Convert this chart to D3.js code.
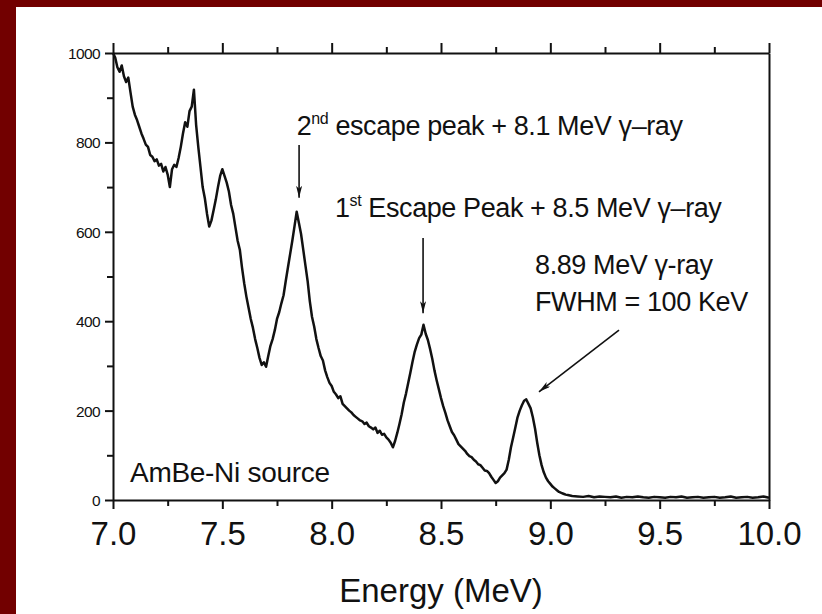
<!DOCTYPE html>
<html>
<head>
<meta charset="utf-8">
<script src="https://cdn.jsdelivr.net/npm/d3@7/dist/d3.min.js"></script>
<style>
  html, body { margin: 0; padding: 0; background: #720000; }
  svg { display: block; }
  text { font-family: "Liberation Sans", Arial, sans-serif; fill: #111; }
</style>
</head>
<body>
<svg id="chart" width="822" height="614"></svg>
<script>
// ---- data ----
const energy = [
  7.00, 7.01, 7.02, 7.03, 7.04, 7.05, 7.06, 7.07, 7.08, 7.09,
  7.10, 7.11, 7.12, 7.13, 7.14, 7.15, 7.16, 7.17, 7.18, 7.19,
  7.20, 7.21, 7.22, 7.23, 7.24, 7.25, 7.26, 7.27, 7.28, 7.29,
  7.30, 7.31, 7.32, 7.33, 7.34, 7.35, 7.36, 7.37, 7.38, 7.39,
  7.40, 7.41, 7.42, 7.43, 7.44, 7.45, 7.46, 7.47, 7.48, 7.49,
  7.50, 7.51, 7.52, 7.53, 7.54, 7.55, 7.56, 7.57, 7.58, 7.59,
  7.60, 7.61, 7.62, 7.63, 7.64, 7.65, 7.66, 7.67, 7.68, 7.69,
  7.70, 7.71, 7.72, 7.73, 7.74, 7.75, 7.76, 7.77, 7.78, 7.79,
  7.80, 7.81, 7.82, 7.83, 7.84, 7.85, 7.86, 7.87, 7.88, 7.89,
  7.90, 7.91, 7.92, 7.93, 7.94, 7.95, 7.96, 7.97, 7.98, 7.99,
  8.00, 8.01, 8.02, 8.03, 8.04, 8.05, 8.06, 8.07, 8.08, 8.09,
  8.10, 8.11, 8.12, 8.13, 8.14, 8.15, 8.16, 8.17, 8.18, 8.19,
  8.20, 8.21, 8.22, 8.23, 8.24, 8.25, 8.26, 8.27, 8.28, 8.29,
  8.30, 8.31, 8.32, 8.33, 8.34, 8.35, 8.36, 8.37, 8.38, 8.39,
  8.40, 8.41, 8.42, 8.43, 8.44, 8.45, 8.46, 8.47, 8.48, 8.49,
  8.50, 8.51, 8.52, 8.53, 8.54, 8.55, 8.56, 8.57, 8.58, 8.59,
  8.60, 8.61, 8.62, 8.63, 8.64, 8.65, 8.66, 8.67, 8.68, 8.69,
  8.70, 8.71, 8.72, 8.73, 8.74, 8.75, 8.76, 8.77, 8.78, 8.79,
  8.80, 8.81, 8.82, 8.83, 8.84, 8.85, 8.86, 8.87, 8.88, 8.89,
  8.90, 8.91, 8.92, 8.93, 8.94, 8.95, 8.96, 8.97, 8.98, 8.99,
  9.00, 9.01, 9.02, 9.03, 9.04, 9.05, 9.06, 9.07, 9.08, 9.09,
  9.10,
  9.125, 9.15, 9.175, 9.20, 9.225, 9.25, 9.275, 9.30, 9.325, 9.35,
  9.375, 9.40, 9.425, 9.45, 9.475, 9.50, 9.525, 9.55, 9.575, 9.60,
  9.625, 9.65, 9.675, 9.70, 9.725, 9.75, 9.775, 9.80, 9.825, 9.85,
  9.875, 9.90, 9.925, 9.95, 9.975, 10.00
];
const counts = [
  1000, 990, 968, 958, 972, 948, 935, 945, 912, 880,
  862, 850, 835, 820, 808, 795, 790, 772, 768, 758,
  762, 748, 752, 735, 745, 728, 700, 740, 750, 745,
  765, 790, 820, 845, 835, 870, 880, 918, 840, 790,
  745, 700, 675, 640, 612, 625, 648, 672, 700, 725,
  740, 725, 710, 690, 660, 640, 610, 580, 560, 520,
  485, 455, 430, 405, 385, 360, 340, 318, 302, 308,
  298, 322, 345, 360, 380, 405, 420, 440, 458, 490,
  520, 550, 580, 612, 645, 620, 595, 560, 525, 490,
  445, 410, 388, 360, 340, 322, 312, 290, 275, 262,
  255, 242, 236, 228, 232, 215, 210, 205, 200, 196,
  190, 186, 182, 178, 176, 170, 173, 165, 162, 158,
  162, 150, 155, 146, 148, 140, 135, 128, 118, 132,
  150, 170, 192, 218, 238, 262, 285, 310, 332, 348,
  362, 370, 392, 372, 358, 338, 316, 290, 268, 248,
  228, 210, 195, 178, 165, 152, 145, 135, 125, 120,
  115, 110, 103, 98, 96, 90, 86, 80, 78, 72,
  66, 65, 60, 52, 45, 38, 42, 50, 55, 60,
  68, 90, 118, 140, 162, 185, 200, 212, 222, 225,
  215, 205, 185, 160, 128, 100, 78, 62, 50, 42,
  36, 30, 26, 22, 18, 16, 14, 12, 11, 10,
  9,
  8, 7, 9, 6, 8, 7, 6, 8, 5, 7,
  6, 8, 6, 5, 7, 6, 5, 7, 6, 8,
  5, 6, 7, 5, 6, 7, 5, 6, 8, 5,
  6, 7, 5, 6, 8, 5
];
const xTicks = [7.0, 7.5, 8.0, 8.5, 9.0, 9.5, 10.0];
const xMinorTicks = [7.25, 7.75, 8.25, 8.75, 9.25, 9.75];
const yTicks = [0, 200, 400, 600, 800, 1000];
const yMinorTicks = [100, 300, 500, 700, 900];
const xTitle = "Energy (MeV)";
const sourceLabel = "AmBe-Ni source";

// annotations (in data units)
const annot2ndPos = [7.84, 816];
const annot1stPos = [8.015, 633];
const annotPeakPos = [8.93, 505];
const annotPeakLine2 = [8.93, 423];
const sourcePos = [7.078, 40];
const arrows = [
  { from: [7.851, 794], to: [7.851, 676] },
  { from: [8.418, 586], to: [8.418, 418] },
  { from: [9.314, 380], to: [8.948, 242] }
];

// ---- drawing ----
const svg = d3.select("#chart");
svg.append("rect").attr("x", 16).attr("y", 7).attr("width", 822 - 16).attr("height", 614 - 7).attr("fill", "#ffffff");

const x = d3.scaleLinear().domain([7.0, 10.0]).range([113, 769]);
const y = d3.scaleLinear().domain([0, 1000]).range([500, 53]);

const defs = svg.append("defs");
defs.append("marker")
  .attr("id", "ah").attr("viewBox", "0 0 12 6").attr("refX", 12).attr("refY", 3)
  .attr("markerWidth", 12).attr("markerHeight", 6).attr("markerUnits", "userSpaceOnUse")
  .attr("orient", "auto")
  .append("path").attr("d", "M0,0 L12,3 L0,6 L3,3 Z").attr("fill", "#111");

// spectrum line
const line = d3.line().x((d, i) => x(energy[i])).y(d => y(d));
svg.append("path").datum(counts)
  .attr("d", line).attr("fill", "none").attr("stroke", "#111")
  .attr("stroke-width", 2.5).attr("stroke-linejoin", "round");

// axes
const axStroke = (g) => {
  g.selectAll("path.domain").attr("stroke", "#111").attr("stroke-width", 2);
  g.selectAll(".tick line").attr("stroke", "#111").attr("stroke-width", 2);
};

// bottom
const gB = svg.append("g").attr("transform", `translate(0,${y(0)})`)
  .call(d3.axisBottom(x).tickValues(xTicks).tickSize(9).tickSizeOuter(0).tickFormat(d3.format(".1f")));
gB.call(axStroke);
gB.selectAll(".tick text").attr("y", 45).attr("dy", 0)
  .attr("font-size", 33).attr("font-family", "Liberation Sans, Arial, sans-serif").attr("fill", "#222");
svg.append("g").attr("transform", `translate(0,${y(0)})`)
  .call(d3.axisBottom(x).tickValues(xMinorTicks).tickSize(6).tickSizeOuter(0).tickFormat(""))
  .call(axStroke).call(g => g.select(".domain").remove());

// top
svg.append("g").attr("transform", `translate(0,${y(1000)})`)
  .call(d3.axisTop(x).tickValues(xTicks).tickSize(10).tickSizeOuter(0).tickFormat(""))
  .call(axStroke);
svg.append("g").attr("transform", `translate(0,${y(1000)})`)
  .call(d3.axisTop(x).tickValues(xMinorTicks).tickSize(6).tickSizeOuter(0).tickFormat(""))
  .call(axStroke).call(g => g.select(".domain").remove());

// left
const gL = svg.append("g").attr("transform", `translate(${x(7.0)},0)`)
  .call(d3.axisLeft(y).tickValues(yTicks).tickSize(8).tickSizeOuter(0).tickFormat(d3.format("d")));
gL.call(axStroke);
gL.selectAll(".tick text").attr("x", -13).attr("dy", "0.35em")
  .attr("font-size", 15.5).attr("letter-spacing", -0.6)
  .attr("font-family", "Liberation Sans, Arial, sans-serif").attr("fill", "#222");
svg.append("g").attr("transform", `translate(${x(7.0)},0)`)
  .call(d3.axisLeft(y).tickValues(yMinorTicks).tickSize(6).tickSizeOuter(0).tickFormat(""))
  .call(axStroke).call(g => g.select(".domain").remove());

// right (line only)
svg.append("g").attr("transform", `translate(${x(10.0)},0)`)
  .call(d3.axisRight(y).tickValues([]).tickSizeOuter(0))
  .call(axStroke);

// axis title
svg.append("text").attr("x", (x(7.0) + x(10.0)) / 2).attr("y", 602)
  .attr("text-anchor", "middle").attr("font-size", 33).attr("fill", "#222").text(xTitle);

// annotations
const fs = 27;
const t1 = svg.append("text").attr("x", x(annot2ndPos[0])).attr("y", y(annot2ndPos[1]))
  .attr("font-size", fs).attr("letter-spacing", -0.4);
t1.append("tspan").text("2");
t1.append("tspan").attr("font-size", 16).attr("dy", -11).text("nd");
t1.append("tspan").attr("dy", 11).text(" escape peak + 8.1 MeV \u03B3\u2013ray");

const t2 = svg.append("text").attr("x", x(annot1stPos[0])).attr("y", y(annot1stPos[1]))
  .attr("font-size", fs).attr("letter-spacing", -0.4);
t2.append("tspan").text("1");
t2.append("tspan").attr("font-size", 16).attr("dy", -11).text("st");
t2.append("tspan").attr("dy", 11).text(" Escape Peak + 8.5 MeV \u03B3\u2013ray");

svg.append("text").attr("x", x(annotPeakPos[0])).attr("y", y(annotPeakPos[1]))
  .attr("font-size", fs).attr("letter-spacing", -0.4).text("8.89 MeV \u03B3-ray");
svg.append("text").attr("x", x(annotPeakLine2[0])).attr("y", y(annotPeakLine2[1]))
  .attr("font-size", fs).attr("letter-spacing", -0.4).text("FWHM = 100 KeV");

svg.append("text").attr("x", x(sourcePos[0])).attr("y", y(sourcePos[1]))
  .attr("font-size", 28).attr("letter-spacing", -0.3).text(sourceLabel);

svg.selectAll("line.arrow").data(arrows).enter().append("line")
  .attr("class", "arrow")
  .attr("x1", d => x(d.from[0])).attr("y1", d => y(d.from[1]))
  .attr("x2", d => x(d.to[0])).attr("y2", d => y(d.to[1]))
  .attr("stroke", "#111").attr("stroke-width", 1.6)
  .attr("marker-end", "url(#ah)");
</script>
</body>
</html>
